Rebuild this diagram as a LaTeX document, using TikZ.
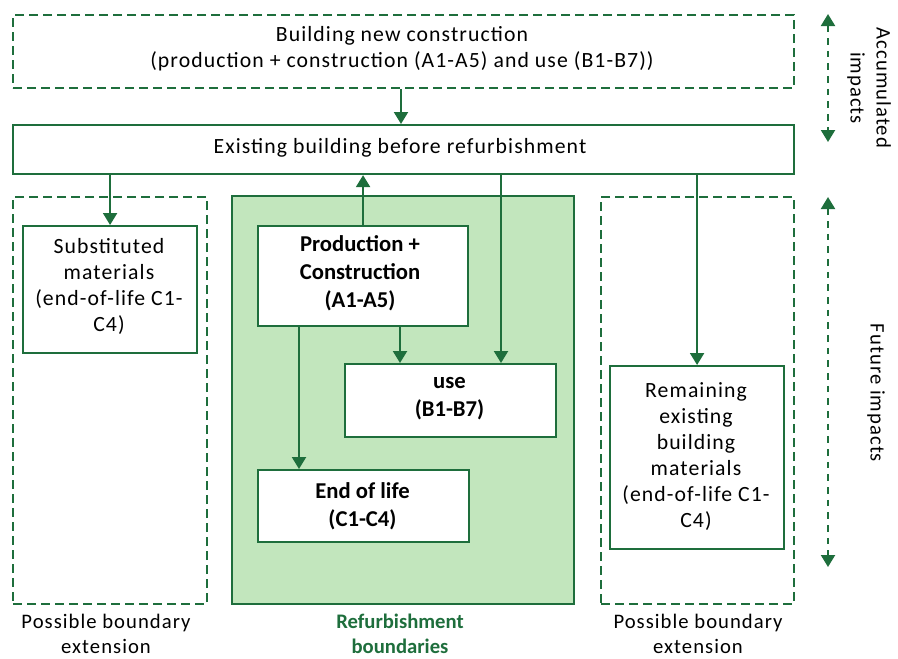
\documentclass[tikz,border=0pt]{standalone}
\usepackage{fontspec}
\setmainfont{Carlito}[LetterSpace=5, BoldFeatures={LetterSpace=0}]
\usetikzlibrary{arrows.meta}
\definecolor{dgreen}{HTML}{1E6E3C}
\definecolor{lgreen}{HTML}{C2E6BD}
\begin{document}
\begin{tikzpicture}[x=0.75pt,y=-0.75pt,
  every node/.style={font=\fontsize{16.3}{19.5}\selectfont, align=center, inner sep=0pt},
  solidbox/.style={draw=dgreen, line width=1.6pt, fill=white, anchor=north west},
  dashbox/.style={draw=dgreen, line width=1.6pt, dash pattern=on 6.5pt off 4pt, anchor=north west},
  zone/.style={draw=dgreen, line width=1.6pt, fill=lgreen, anchor=north west},
  arr/.style={draw=dgreen, line width=1.6pt, -{Triangle[width=10.5pt,length=9pt]}},
  spanarr/.style={draw=dgreen, line width=1.6pt, dash pattern=on 5pt off 4.5pt,
    {Triangle[width=10.5pt,length=9pt]}-{Triangle[width=10.5pt,length=9pt]}},
  boldtxt/.style={font=\fontsize{17}{21}\selectfont\bfseries},
  sidetxt/.style={rotate=-90, font=\fontsize{15.5}{19.5}\selectfont},
  foot/.style={font=\fontsize{15.5}{18.5}\selectfont}]
\useasboundingbox (0,0) rectangle (898,658);

% outer boundary zones
\node[dashbox, minimum width=194*0.75pt, minimum height=407*0.75pt] (leftzone) at (12,196) {};
\node[dashbox, minimum width=193*0.75pt, minimum height=407*0.75pt] (rightzone) at (600,196) {};
\node[zone, minimum width=342*0.75pt, minimum height=408*0.75pt] (refzone) at (231,195) {};

% top row
\node[dashbox, minimum width=781*0.75pt, minimum height=73*0.75pt] (newbuild) at (12,14) {};
\node at (402,49) {Building new construction\\(production + construction (A1-A5) and use (B1-B7))};
\node[solidbox, minimum width=781*0.75pt, minimum height=49*0.75pt] (exist) at (12,124) {};
\node at (400,148) {Existing building before refurbishment};

% life cycle stages
\node[solidbox, minimum width=174*0.75pt, minimum height=127*0.75pt] (subst) at (22,225) {};
\node at (109,286) {Substituted\\materials\\(end-of-life C1-\\C4)};

\node[solidbox, minimum width=210*0.75pt, minimum height=100*0.75pt] (prod) at (257,225) {};
\node[boldtxt] at (360,273) {Production +\\Construction\\(A1-A5)};

\node[solidbox, minimum width=211*0.75pt, minimum height=73*0.75pt] (use) at (344,363) {};
\node[boldtxt] at (449.5,399) {use\\(B1-B7)};

\node[solidbox, minimum width=211*0.75pt, minimum height=72*0.75pt] (eol) at (257,469) {};
\node[boldtxt] at (362.5,506) {End of life\\(C1-C4)};

\node[solidbox, minimum width=174*0.75pt, minimum height=183*0.75pt] (remain) at (609,365) {};
\node at (696,457) {Remaining\\existing\\building\\materials\\(end-of-life C1-\\C4)};

% connector positions
\coordinate (xa) at (401,0);
\coordinate (xb) at (400,0);
\coordinate (xc) at (501,0);
\coordinate (xd) at (299,0);

% flows
\draw[arr] (newbuild.south -| xa) -- (exist.north -| xa);
\draw[arr] (exist.south -| subst.north) -- (subst.north);
\draw[arr] (prod.north) -- (exist.south -| prod.north);
\draw[arr] (prod.south -| xb) -- (use.north -| xb);
\draw[arr] (exist.south -| xc) -- (use.north -| xc);
\draw[arr] (prod.south -| xd) -- (eol.north -| xd);
\draw[arr] (exist.south -| remain.north) -- (remain.north);

% time spans
\coordinate (acctop) at (828,14);
\coordinate (accbot) at (828,142);
\coordinate (futtop) at (828,197);
\coordinate (futbot) at (828,567);
\draw[spanarr] (acctop) -- (accbot);
\draw[spanarr] (futtop) -- (futbot);
\node[sidetxt] (acclabel) at (869,88) {Accumulated\\impacts};
\node[sidetxt] (futlabel) at (876,393) {Future impacts};

% zone captions
\node[foot] (leftcap) at (106,634) {Possible boundary\\extension};
\node[foot, font=\fontsize{15.5}{18.5}\selectfont\bfseries, text=dgreen] (refcap) at (400,634) {Refurbishment\\boundaries};
\node[foot] (rightcap) at (698,634) {Possible boundary\\extension};
\end{tikzpicture}
\end{document}
